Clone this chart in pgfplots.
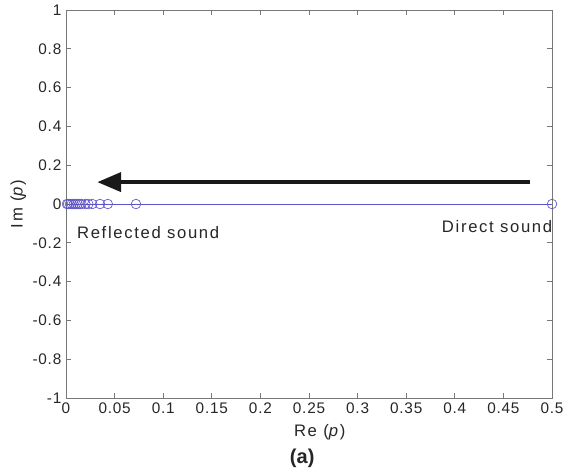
\documentclass[border=0pt]{standalone}
\usepackage{pgfplots}
\pgfplotsset{compat=1.18}
\usetikzlibrary{arrows.meta}
\usepackage{fontspec}
\setmainfont{Liberation Sans}
\newfontfamily\widefont[LetterSpace=10]{Liberation Sans}
\newfontfamily\tickfont[LetterSpace=5]{Liberation Sans}
\definecolor{mblue}{RGB}{95,85,200}
\definecolor{axgray}{RGB}{120,120,120}
\begin{document}
\begin{tikzpicture}
\begin{axis}[
  scale only axis,
  width=364.5pt, height=291pt,
  xmin=0, xmax=0.5, ymin=-1, ymax=1,
  xtick={0,0.05,...,0.5},
  ytick={-1,-0.8,...,1},
  xticklabels={0,0.05,0.1,0.15,0.2,0.25,0.3,0.35,0.4,0.45,0.5},
  yticklabels={-1,-0.8,-0.6,-0.4,-0.2,0,0.2,0.4,0.6,0.8,1},
  tick align=inside,
  tick pos=both,
  major tick length=4pt,
  axis line style={axgray, line width=0.6pt},
  tick style={axgray, line width=0.5pt},
  ticklabel style={font=\tickfont\fontsize{11.5}{13}\selectfont, text=black!85},
  /pgf/number format/assume math mode=true,
  xlabel={Re (\textit{p})},
  ylabel={Im (\textit{p})},
  label style={font=\widefont\fontsize{12.5}{14}\selectfont, text=black!85},
  xlabel style={yshift=-1.5pt, xshift=8pt},
  ylabel style={yshift=-2pt},
  clip=false,
]
\addplot[mblue, line width=0.5pt, mark=o, mark size=3.6pt, mark options={solid, line width=0.5pt}] coordinates {
(0.001,0) (0.002,0) (0.004,0) (0.006,0) (0.008,0) (0.010,0) (0.012,0) (0.014,0) (0.016,0) (0.020,0) (0.023,0) (0.027,0) (0.035,0) (0.043,0) (0.072,0) (0.5,0)
};
\addplot[black!90, line width=3.5pt, -{Triangle[length=18pt,width=14pt]}] coordinates {(0.477,0.113) (0.032,0.113)};
\node[font=\widefont\fontsize{12.5}{14}\selectfont, text=black!85] at (axis cs:0.0845,-0.148) {Reflected sound};
\node[font=\widefont\fontsize{12.5}{14}\selectfont, text=black!85] at (axis cs:0.4435,-0.118) {Direct sound};
\node[font=\bfseries\fontsize{15}{17}\selectfont, text=black!85] at (axis cs:0.243,-1.309) {(a)};
\path (rel axis cs:-0.1358,-0.1804) rectangle (rel axis cs:1.0432,1.0258);
\end{axis}
\end{tikzpicture}
\end{document}
